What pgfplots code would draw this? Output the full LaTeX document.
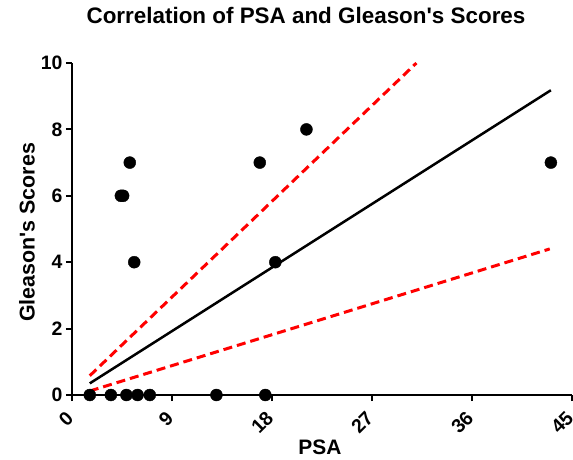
\documentclass[border=0pt]{standalone}
\usepackage{pgfplots}
\pgfplotsset{compat=1.18}
\usepackage{fontspec}
\setmainfont{Liberation Sans}
\newfontfamily\arial{Liberation Sans}
\begin{document}
\begin{tikzpicture}
\begin{axis}[
  width=500bp, height=332bp, scale only axis,
  xmin=0, xmax=45, ymin=0, ymax=10,
  axis x line=bottom, axis y line=left,
  axis line style={line width=2.5bp, -},
  xtick={0,9,18,27,36,45}, ytick={0,2,4,6,8,10},
  tick align=outside, major tick length=6bp,
  tick style={line width=2bp, black},
  /pgf/number format/assume math mode=true,
  ticklabel style={font=\fontsize{19.5}{19.5}\selectfont\bfseries},
  xticklabel style={xshift=-7bp, yshift=-6bp, rotate=45, anchor=north east, inner sep=2bp},
  title={Correlation of PSA and Gleason's Scores},
  title style={font=\arial\fontsize{22.5}{24}\selectfont\bfseries, at={(axis description cs:0.5,1)}, anchor=base, yshift=34bp, xshift=-16bp},
  xlabel={PSA},
  ylabel={Gleason's Scores},
  xlabel style={font=\arial\fontsize{21}{24}\selectfont\bfseries, at={(axis description cs:0.496,-0.157)}, anchor=center},
  ylabel style={font=\arial\fontsize{21.5}{24}\selectfont\bfseries, at={(axis description cs:-0.09,0.49)}, anchor=center, rotate=0},
  clip=false,
]
\coordinate (bl) at (rel axis cs:0,0);
\addplot[only marks, mark=*, mark size=6bp, black] coordinates {
  (1.6,0) (3.5,0) (4.9,0) (5.9,0) (7.0,0) (13.0,0) (17.4,0)
  (4.4,6) (4.6,6) (5.2,7) (5.6,4) (16.9,7) (18.3,4) (21.1,8) (43.1,7)
};
\addplot[black, line width=2.5bp] coordinates {(1.6,0.35) (43.1,9.18)};
\addplot[red, line width=3bp, dash pattern=on 9bp off 5bp] coordinates {(1.6,0.58) (31.0,10.0)};
\addplot[red, line width=3bp, dash pattern=on 9bp off 5bp] coordinates {(1.6,0.12) (43.0,4.40)};
\end{axis}
\pgfresetboundingbox
\path (bl) ++(-72bp,-65bp) rectangle ++(573bp,460bp);
\end{tikzpicture}
\end{document}
